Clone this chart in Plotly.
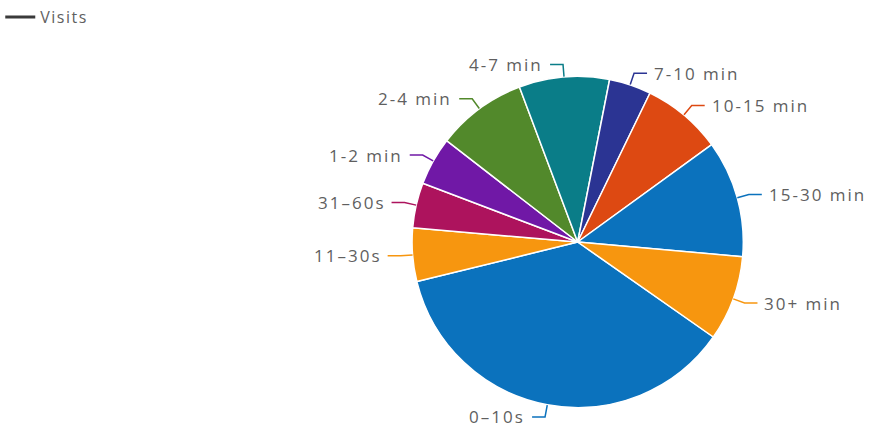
import numpy as np
import plotly.graph_objects as go

# Session-length buckets and visit counts
labels = ["0–10s", "11–30s", "31–60s", "1-2 min", "2-4 min",
          "4-7 min", "7-10 min", "10-15 min", "15-30 min", "30+ min"]
visits = [364, 52, 44, 47, 88, 88, 41, 78, 114, 83]
colors = ["#0b72bd", "#f7960f", "#ad135d", "#7018a6", "#52892b",
          "#0a7d88", "#2b3493", "#dd4912", "#0b72bd", "#f7960f"]
series_name = "Visits"

W, H = 869, 429
CX, CY, R = 577, 242, 166        # pie centre and radius in pixels
START = 125                      # first slice starts here (deg clockwise from 12 o'clock)
TEXT_COLOR = "#5f5f5f"
FONT = "Open Sans"


def px(x):
    return x / W


def py(y):
    return 1 - y / H


def spaced(t, ls=2):
    return f'<span style="letter-spacing:{ls}px">{t}</span>'


fig = go.Figure()
fig.add_trace(go.Pie(
    labels=labels, values=visits, sort=False, direction="clockwise",
    rotation=START, textinfo="none", name=series_name, showlegend=False,
    marker=dict(colors=colors, line=dict(color="white", width=1.5)),
    domain=dict(x=[px(CX - R), px(CX + R)], y=[py(CY + R), py(CY - R)]),
))

# legend entry for the series
fig.add_trace(go.Scatter(
    x=[None], y=[None], mode="lines", name=spaced(series_name, 1.5),
    line=dict(color="#3a3a3a", width=3), showlegend=True,
))

# leader lines and outside labels, placed at each slice's mid-angle
vals = np.array(visits, dtype=float)
cum = np.concatenate([[0.0], np.cumsum(vals)]) / vals.sum()
mids = np.radians(START + 360.0 * (cum[:-1] + cum[1:]) / 2)

shapes, annotations = [], []
for lab, col, a in zip(labels, colors, mids):
    s, c = np.sin(a), -np.cos(a)
    x0, y0 = CX + R * s, CY + R * c
    x1, y1 = CX + (R + 12) * s, CY + (R + 12) * c
    side = 1 if s >= 0 else -1
    x2 = x1 + side * 13
    shapes.append(dict(
        type="path", xref="paper", yref="paper",
        path=f"M{px(x0)},{py(y0)} L{px(x1)},{py(y1)} L{px(x2)},{py(y1)}",
        line=dict(color=col, width=1.5),
    ))
    annotations.append(dict(
        x=px(x2 + side * 5), y=py(y1), xref="paper", yref="paper",
        text=spaced(lab, 2), showarrow=False,
        xanchor="left" if side > 0 else "right", yanchor="middle",
        font=dict(family=FONT, size=17, color=TEXT_COLOR),
    ))

fig.update_layout(
    width=W, height=H,
    margin=dict(l=0, r=0, t=0, b=0),
    paper_bgcolor="white", plot_bgcolor="white",
    xaxis=dict(visible=False), yaxis=dict(visible=False),
    shapes=shapes, annotations=annotations,
    legend=dict(x=-0.002, y=1.0, xanchor="left", yanchor="top",
                font=dict(family=FONT, size=16, color=TEXT_COLOR),
                bgcolor="rgba(0,0,0,0)"),
)

fig.write_html("out.html")
